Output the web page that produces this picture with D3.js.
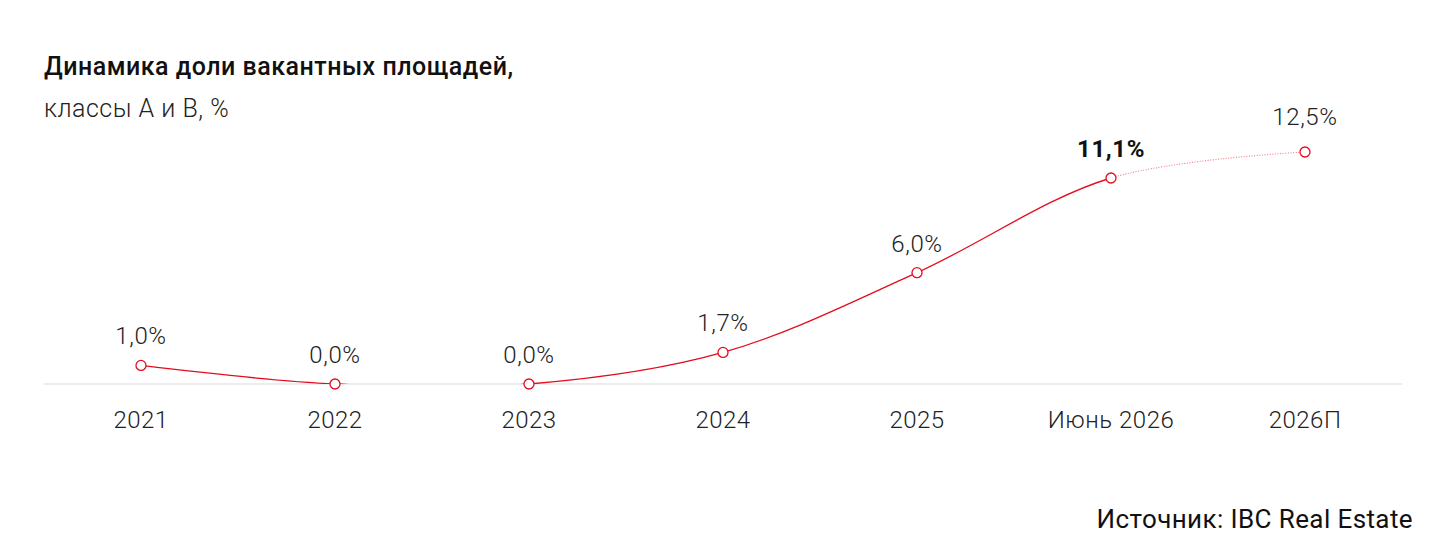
<!DOCTYPE html>
<html>
<head>
<meta charset="utf-8">
<script src="https://cdn.jsdelivr.net/npm/d3@7"></script>
<style>
  body { margin: 0; background: #fff; }
  svg { display: block; font-family: Roboto, "Open Sans", sans-serif; }
</style>
</head>
<body>
<svg id="chart"></svg>
<script>
// данные графика
const categories = ["2021", "2022", "2023", "2024", "2025", "Июнь 2026", "2026П"];
const values = [1.0, 0.0, 0.0, 1.7, 6.0, 11.1, 12.5];
const valueLabels = ["1,0%", "0,0%", "0,0%", "1,7%", "6,0%", "11,1%", "12,5%"];
const forecastFrom = 5; // с этой точки линия пунктирная

const W = 1434, H = 549,
    margin = {top: 152, right: 32, bottom: 165, left: 44},
    width = W - margin.left - margin.right,
    height = H - margin.top - margin.bottom;

const svg = d3.select("#chart").attr("width", W).attr("height", H);
const red = "#e30c1e";

svg.append("text").attr("x", 44).attr("y", 75)
    .attr("font-size", 25).attr("font-weight", 500).attr("fill", "#111")
    .attr("letter-spacing", 0.5)
    .text("Динамика доли вакантных площадей,");
svg.append("text").attr("x", 44).attr("y", 117)
    .attr("font-size", 25).attr("font-weight", 300).attr("fill", "#222")
    .attr("letter-spacing", 0.5)
    .text("классы А и В, %");
svg.append("text").attr("x", 1413).attr("y", 528)
    .attr("text-anchor", "end")
    .attr("font-size", 26).attr("font-weight", 400).attr("fill", "#111")
    .attr("letter-spacing", 0.4)
    .text("Источник: IBC Real Estate");

let x = d3.scaleBand().domain(categories).range([0, width]).padding(0),
    y = d3.scaleLinear().domain([0, 12.5]).range([height, 0]);
const cx = d => x(d) + x.bandwidth() / 2;

let g = svg.append("g").attr("transform", "translate(" + margin.left + "," + margin.top + ")");

// нулевая линия
g.append("line").attr("x1", 0).attr("x2", width)
    .attr("y1", y(0)).attr("y2", y(0))
    .attr("stroke", "#d9d9d9").attr("stroke-width", 1.2);

// подписи оси X
g.append("g").attr("transform", "translate(0," + height + ")")
    .call(d3.axisBottom(x).tickSize(0).tickPadding(27))
    .call(a => a.select(".domain").remove())
    .selectAll("text")
    .attr("font-size", 24).attr("font-weight", 300).attr("fill", "#222")
    .attr("letter-spacing", 0.5)
    .attr("font-family", "Roboto, sans-serif");

const pts = categories.map((c, i) => [cx(c), y(values[i])]);
const line = d3.line().curve(d3.curveCatmullRom.alpha(0.5));

const defs = svg.append("defs");
defs.append("clipPath").attr("id", "clipSolid").append("rect")
    .attr("x", -10).attr("y", -50).attr("width", cx(categories[forecastFrom]) + 10).attr("height", y(0) + 50);
defs.append("clipPath").attr("id", "clipDot").append("rect")
    .attr("x", cx(categories[forecastFrom])).attr("y", -50).attr("width", width).attr("height", y(0) + 50);

g.append("path").attr("d", line(pts))
    .attr("clip-path", "url(#clipSolid)")
    .attr("fill", "none").attr("stroke", red).attr("stroke-width", 1.3);
g.append("path").attr("d", line(pts))
    .attr("clip-path", "url(#clipDot)")
    .attr("fill", "none").attr("stroke", "#f07a84").attr("stroke-width", 1.1)
    .attr("stroke-dasharray", "1,1.6");

g.selectAll(".dot").data(pts).enter().append("circle")
    .attr("class", "dot")
    .attr("cx", d => d[0]).attr("cy", d => d[1]).attr("r", 5)
    .attr("fill", "#fff").attr("stroke", red).attr("stroke-width", 1.3);

g.selectAll(".lbl").data(categories).enter().append("text")
    .attr("class", "lbl")
    .attr("x", d => cx(d))
    .attr("y", (d, i) => y(values[i]) - (i === 6 ? 27 : 21))
    .attr("text-anchor", "middle")
    .attr("font-size", 24)
    .attr("letter-spacing", 0.6)
    .attr("font-weight", (d, i) => i === forecastFrom ? 700 : 300)
    .attr("fill", (d, i) => i === forecastFrom ? "#111" : "#222")
    .text((d, i) => valueLabels[i]);
</script>
</body>
</html>
